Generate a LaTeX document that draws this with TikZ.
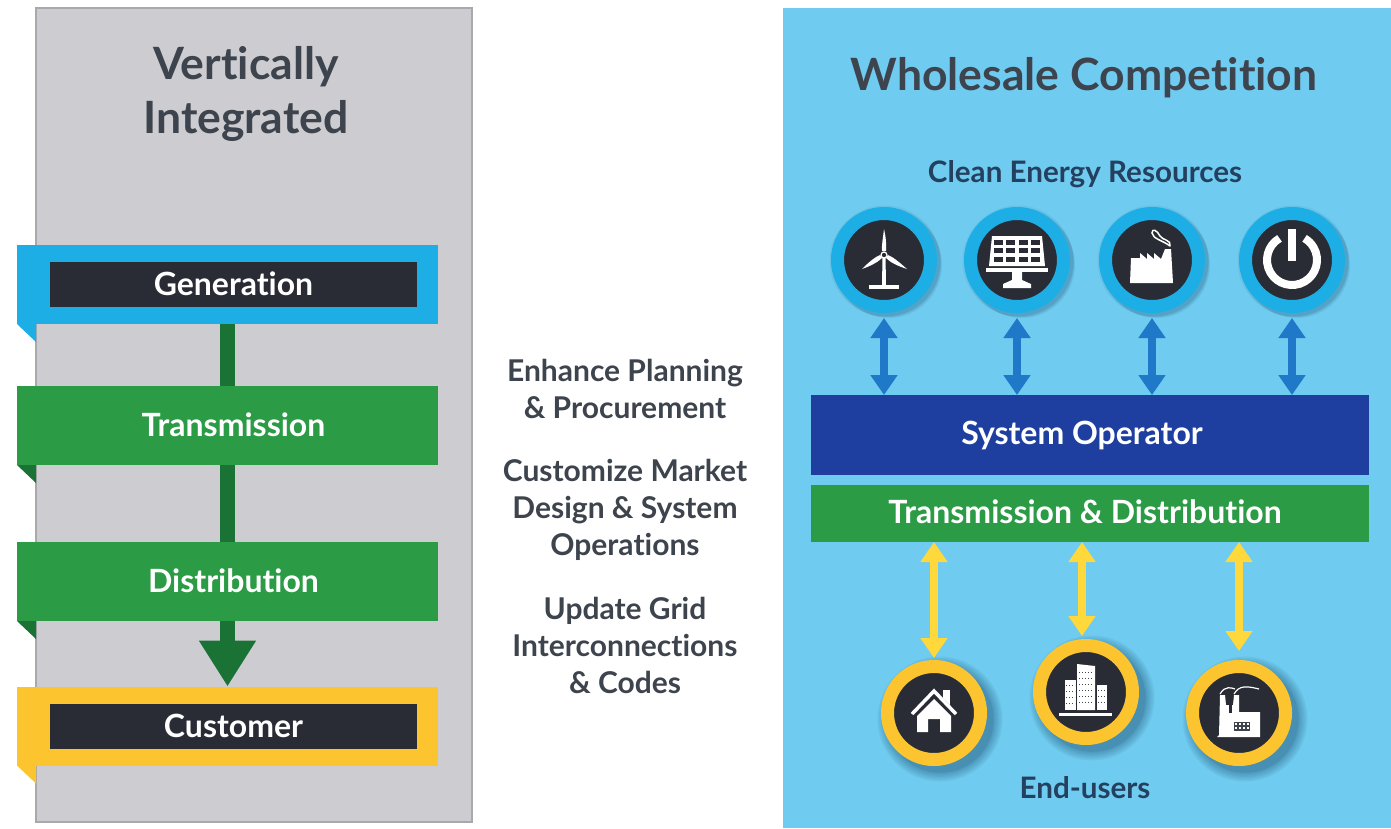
\documentclass[tikz,border=0pt]{standalone}
\usepackage{xcolor}
\usepackage{fontspec}
\setmainfont{Lato}[Ligatures=NoCommon]
\usepackage{tikz}
\usetikzlibrary{arrows.meta}
\usetikzlibrary{positioning}
\definecolor{greypanel}{HTML}{CDCDD1}
\definecolor{greyedge}{HTML}{A9A9AD}
\definecolor{skypanel}{HTML}{6FCBEF}
\definecolor{cyanband}{HTML}{1CAEE4}
\definecolor{greenband}{HTML}{2B9B45}
\definecolor{greenshaft}{HTML}{1A7235}
\definecolor{yellowband}{HTML}{FCC52F}
\definecolor{darkbar}{HTML}{2A2C35}
\definecolor{navybar}{HTML}{1E3FA0}
\definecolor{bluearrow}{HTML}{1F78C8}
\definecolor{yellowarrow}{HTML}{FFD93B}
\definecolor{greytext}{HTML}{3E444D}
\definecolor{navytext}{HTML}{24405F}
\definecolor{shadowtone}{HTML}{123A5C}
\tikzset{
    panel/.style={
      rectangle,
      inner sep=0pt,
      outer sep=0pt,
    },
    band/.style={
      rectangle,
      minimum width=421pt,
      minimum height=79pt,
      inner sep=0pt,
      outer sep=0pt,
    },
    bandlabel/.style={
      rectangle,
      minimum width=367pt,
      minimum height=45pt,
      inner sep=0pt,
      text=white,
      font=\bfseries\fontsize{32}{38}\selectfont,
    },
    bar/.style={
      rectangle,
      minimum width=558pt,
      inner sep=0pt,
      outer sep=0pt,
      text=white,
      font=\bfseries\fontsize{32}{38}\selectfont,
    },
    heading/.style={
      inner sep=0pt,
      font=\bfseries\fontsize{44.5}{54}\selectfont,
    },
    step text/.style={
      inner sep=0pt,
      text=greytext,
      font=\bfseries\fontsize{30}{37}\selectfont,
    },
    subhead/.style={
      inner sep=0pt,
      text=navytext,
      font=\bfseries\fontsize{29.6}{36}\selectfont,
    },
    shadowring/.style 2 args={
      preaction={draw=shadowtone, line width=#1, opacity=.06,
        transform canvas={xshift=#2,yshift=-#2}},
    },
    softshadow/.style={
      shadowring={18pt}{1pt}, shadowring={16pt}{2pt}, shadowring={15pt}{3pt},
      shadowring={14pt}{4pt}, shadowring={13pt}{5pt},
    },
    deepshadow/.style={
      shadowring={32pt}{6pt}, shadowring={29pt}{6pt}, shadowring={26pt}{6pt},
      shadowring={23pt}{6pt}, shadowring={20pt}{6pt}, shadowring={17pt}{6pt},
      shadowring={14pt}{6pt}, shadowring={13pt}{7pt},
    },
    ring/.style={
      circle,
      minimum size=93pt,
      inner sep=0pt,
      fill=darkbar,
      line width=13pt,
      outer sep=6.5pt,
    },
    shaft/.style={greenshaft, line width=15pt},
    link/.style={line width=8pt, {Triangle[length=20pt,width=26pt]}-{Triangle[length=20pt,width=26pt]}},
}

\begin{document}
\begin{tikzpicture}[x=1pt,y=-1pt]
    \useasboundingbox (0,0) rectangle (1391,828);

    % the two panels
    \node[panel, fill=greypanel, draw=greyedge, line width=1.5pt,
    minimum width=436pt, minimum height=814pt] (LEFT) at (254,415) {};
    \node[panel, fill=skypanel,
    minimum width=608pt, minimum height=820pt] (RIGHT) at (1087,418) {};

    \node[heading, text=greytext] (VERT) at (246,96)
    {
      \begin{tabular}{c}
        Vertically \\
        Integrated
      \end{tabular}
    };
    \node[heading, text=greytext] (WHOLE) at (1084,78) {Wholesale Competition};

    % left column
    \node[band, fill=cyanband] (GEN) at (227.5,284.5) {};
    \node[band, fill=greenband,
    below of=GEN,
    node distance=141pt] (TRANS) {};
    \node[band, fill=greenband,
    below of=TRANS,
    node distance=156pt] (DIST) {};
    \node[band, fill=yellowband,
    below of=DIST,
    node distance=144.5pt] (CUST) {};

    \fill[cyanband] (GEN.south west) -- ++(19,18) -- ++(0,-18) -- cycle;
    \fill[greenshaft] (TRANS.south west) -- ++(19,18) -- ++(0,-18) -- cycle;
    \fill[greenshaft] (DIST.south west) -- ++(19,18) -- ++(0,-18) -- cycle;
    \fill[yellowband] (CUST.south west) -- ++(19,18) -- ++(0,-18) -- cycle;

    \node[bandlabel, fill=darkbar, xshift=6pt] (GENTXT) at (GEN) {\raisebox{1.5pt}{Generation}};
    \node[bandlabel, xshift=6pt] (TRANSTXT) at (TRANS) {\raisebox{2pt}{Transmission}};
    \node[bandlabel, xshift=6pt] (DISTTXT) at (DIST) {\raisebox{1pt}{Distribution}};
    \node[bandlabel, fill=darkbar, xshift=6pt] (CUSTTXT) at (CUST) {Customer};

    \path
    (GEN) edge[shaft] (TRANS)
    (TRANS) edge[shaft] (DIST)
    (DIST.south) edge[shaft, -{Triangle[length=46pt,width=54pt]}] (CUST.north);

    % middle column
    \node[step text] (PLAN) at (625,393)
    {
      \begin{tabular}{c}
        Enhance Planning \\
        \& Procurement
      \end{tabular}
    };
    \node[step text] (MARKET) at (625,511)
    {
      \begin{tabular}{c}
        Customize Market \\
        Design \& System \\
        Operations
      \end{tabular}
    };
    \node[step text] (GRID) at (625,649)
    {
      \begin{tabular}{c}
        Update Grid \\
        Interconnections \\
        \& Codes
      \end{tabular}
    };

    % right column
    \node[subhead] (CLEAN) at (1085,174) {Clean Energy Resources};
    \node[bar, fill=navybar, minimum height=80pt] (SYSOP) at (1090,435) {\hspace*{-16pt}System Operator};
    \node[bar, fill=greenband, minimum height=57pt] (TD) at (1090,513.5) {\hspace*{-10pt}\raisebox{3pt}{Transmission \& Distribution}};

    \node[ring, draw=cyanband, softshadow] (WIND) at (884,260) {};
    \node[ring, draw=cyanband, softshadow,
    right of=WIND,
    node distance=133pt] (SOLAR) {};
    \node[ring, draw=cyanband, softshadow,
    right of=SOLAR,
    node distance=135pt] (FACTORY) {};
    \node[ring, draw=cyanband, softshadow,
    right of=FACTORY,
    node distance=140pt] (POWER) {};

    \node[ring, draw=yellowband, deepshadow] (HOME) at (934,713) {};
    \node[ring, draw=yellowband, deepshadow] (TOWER) at (1086,692) {};
    \node[ring, draw=yellowband, deepshadow] (PLANT) at (1239,713) {};

    \node[subhead] (USERS) at (1085,788) {End-users};

    \path[bluearrow]
    ([yshift=-5pt]WIND.south) edge[link] (WIND |- SYSOP.north)
    ([yshift=-5pt]SOLAR.south) edge[link] (SOLAR |- SYSOP.north)
    ([yshift=-5pt]FACTORY.south) edge[link] (FACTORY |- SYSOP.north)
    ([yshift=-5pt]POWER.south) edge[link] (POWER |- SYSOP.north);

    \path[yellowarrow]
    (HOME |- TD.south) edge[link] ([yshift=2pt]HOME.north)
    ([xshift=-4pt]TOWER |- TD.south) edge[link] ([xshift=-4pt,yshift=3pt]TOWER.north)
    (PLANT |- TD.south) edge[link] ([yshift=9pt]PLANT.north);

    % turbine
    \begin{scope}[shift={(WIND.center)}]
      \fill[white] (-1.5,-5) -- (1.5,-5) -- (2,26) -- (-2,26) -- cycle;
      \fill[white] (-15,25) rectangle (15,29);
      \fill[white] (0,-31) .. controls (2,-22) and (2.5,-15) .. (2,-9) -- (-2,-9) .. controls (-2.5,-15) and (-1,-22) .. (0,-31) -- cycle;
      \fill[white] (-22,9) .. controls (-15,2) and (-9,-3) .. (-4,-5) -- (-2,-2) .. controls (-7,3) and (-14,6) .. (-22,9) -- cycle;
      \fill[white] (23,9) .. controls (15,2) and (9,-3) .. (4,-5) -- (2,-2) .. controls (7,3) and (14,6) .. (23,9) -- cycle;
      \draw[white, fill=darkbar, line width=1.2pt] (0,-5) circle[radius=3pt];
    \end{scope}

    % solar panel
    \begin{scope}[shift={(SOLAR.center)}]
      \fill[white] (-25,-24) -- (25,-24) -- (28,6) -- (-28,6) -- cycle;
      \fill[white] (-31,8) rectangle (31,12);
      \fill[white] (-5,12) -- (5,12) -- (5,20) -- (14,24) -- (14,28) -- (-14,28) -- (-14,24) -- (-5,20) -- cycle;
      \foreach \col in {-1.5,-.5,.5,1.5} {
        \foreach \row in {-18,-10,-1} {
          \fill[darkbar] ({\col*12.5-4.5},\row-2.5) rectangle ({\col*12.5+4.5},\row+3);
        }
      }
    \end{scope}

    % smokestack
    \begin{scope}[shift={(FACTORY.center)}]
      \fill[white] (-22,23) -- (-21,-2) -- (-12,-2) -- (-12,-7) -- (-5,-1) -- (-5,-7) -- (2,-1) -- (2,-7) -- (9,-1)
        -- (13,-11) -- (19,-11) -- (21,23) -- cycle;
      \draw[white, line width=1.5pt, line cap=round] (18,-14) .. controls (20,-20) and (10,-20) .. (8,-24)
        .. controls (5,-30) and (0,-32) .. (0,-27) .. controls (1,-21) and (10,-20) .. (18,-14);
    \end{scope}

    % power symbol
    \begin{scope}[shift={(POWER.center)}]
      \draw[white, line width=8pt] (-12.5,-21.65) arc[start angle=120, end angle=420, radius=25pt];
      \fill[white] (-4,-31) rectangle (4,1);
    \end{scope}

    % house
    \begin{scope}[shift={(HOME.center)}]
      \fill[white] (9,-23) rectangle (16,-8);
      \draw[darkbar, line width=5pt, line join=miter] (-24,4) -- (0,-20) -- (24,4);
      \draw[white, line width=3.5pt, line join=miter] (-22,1) -- (0,-22) -- (22,1);
      \fill[white] (0,-14) -- (17,3) -- (17,19) -- (6,19) -- (6,6) -- (-6,6) -- (-6,19) -- (-17,19) -- (-17,3) -- cycle;
    \end{scope}

    % office blocks
    \begin{scope}[shift={(TOWER.center)}]
      \fill[white] (-9,-28) -- (9,-26) -- (9,18) -- (-9,18) -- cycle;
      \fill[white] (-21,-12) rectangle (-10,18);
      \fill[white] (11,-7) rectangle (21,18);
      \fill[white] (-27,21) rectangle (26,24);
      \foreach \row in {-20,-14,...,14} {
        \draw[greytext, line width=1pt, dotted] (-7,\row) -- (7,\row);
      }
      \foreach \row in {-7,-1,...,14} {
        \draw[greytext, line width=1pt, dotted] (-20,\row) -- (-11,\row);
      }
      \foreach \row in {-2,4,...,14} {
        \draw[greytext, line width=1pt, dotted] (12,\row) -- (20,\row);
      }
    \end{scope}

    % plant
    \begin{scope}[shift={(PLANT.center)}]
      \fill[white] (-19,-18) -- (-14,-18) -- (-13,-8) -- (-6,-8) -- (-5,-18) -- (0,-18) -- (0,-1) -- (21,-1) -- (21,24)
        -- (-22,24) -- (-20,22) -- cycle;
      \draw[white, line width=1.2pt] (-19,-19) .. controls (-14,-28) and (-7,-25) .. (-4,-24)
        (-5,-19) .. controls (0,-28) and (8,-27) .. (20,-24);
      \fill[greytext] (-5,9) rectangle (11,18);
      \foreach \col in {-3,1,5,9} {
        \foreach \row in {11,15} {
          \fill[white] (\col-.8,\row-.8) rectangle (\col+.8,\row+.8);
        }
      }
      \fill[darkbar] (-10,-12) rectangle (-7,0);
    \end{scope}

\end{tikzpicture}
\end{document}
